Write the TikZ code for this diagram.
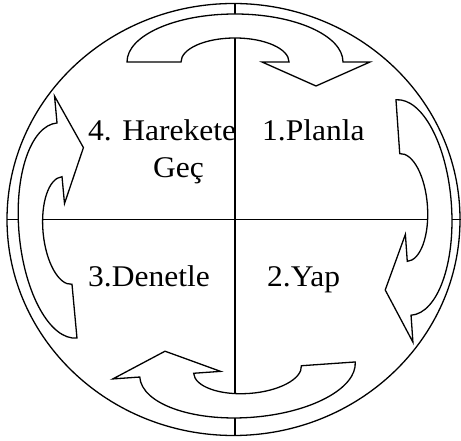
\documentclass[tikz,border=0pt]{standalone}
\usepackage{fontspec}
\setmainfont{Liberation Serif}
\begin{document}
\begin{tikzpicture}[x=1bp,y=1bp,
  ln/.style={line width=1.3bp,black},
  arrowshape/.style={line width=1.3bp,draw=black,fill=white,line join=miter},
  lbl/.style={inner sep=0pt,anchor=base west,yscale=0.954,transform shape,font=\fontsize{31.5bp}{37bp}\selectfont},
  cyc/.pic={\path[arrowshape] (-108,0) arc[start angle=180,end angle=0,x radius=108,y radius=48]
     -- (135,0) -- (81,-24) -- (27,0) -- (54,0)
     arc[start angle=0,end angle=180,x radius=54,y radius=24] -- cycle;}]
\useasboundingbox (0,0) rectangle (461,441);
\coordinate (c) at (233.5,221.5);
\draw[ln] (c) ellipse[x radius=226.5,y radius=216];
\coordinate (vt) at (235,437.5);
\coordinate (vb) at (235,5.5);
\coordinate (hl) at (7,221.5);
\coordinate (hr) at (461,221.5);
\draw[ln] (vt) -- (vb);
\draw[ln] (hl) -- (hr);
\pic at (235,379) {cyc};
\pic[rotate=-86] at (403.5,233.5) {cyc};
\pic[rotate=-176] at (247.5,71.5) {cyc};
\pic[rotate=95.3] at (67,210.5) {cyc};
\node[lbl] (t4) at (88,300) {4. Harekete};
\node[lbl] (t4b) at (153,263) {Geç};
\node[lbl] (t1) at (262,300) {1.Planla};
\node[lbl] (t3) at (88,154) {3.Denetle};
\node[lbl] (t2) at (267,154) {2.Yap};
\end{tikzpicture}
\end{document}
